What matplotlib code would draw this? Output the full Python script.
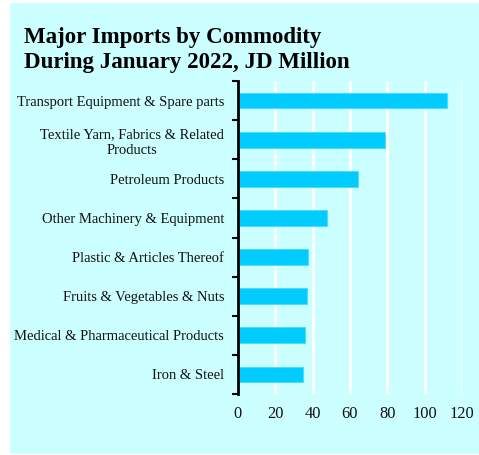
import matplotlib.pyplot as plt
from matplotlib.patches import Rectangle

# Imports by commodity, January 2022 (JD million)
commodities = [
    "Transport Equipment & Spare parts",
    "Textile Yarn, Fabrics & Related\nProducts",
    "Petroleum Products",
    "Other Machinery & Equipment",
    "Plastic & Articles Thereof",
    "Fruits & Vegetables & Nuts",
    "Medical & Pharmaceutical Products",
    "Iron & Steel",
]
values = [111.8, 78.7, 64.1, 47.8, 37.3, 36.7, 36.0, 34.8]
x_ticks = [0, 20, 40, 60, 80, 100, 120]

bg = "#CCFFFF"
bar_color = "#00CCFF"

plt.rcParams["font.family"] = ["Liberation Serif", "DejaVu Serif"]

fig = plt.figure(figsize=(4.79, 4.55), dpi=100)
fig.patches.append(Rectangle((10 / 479, 1 / 455), 1, (452 - 1) / 455,
                             transform=fig.transFigure, facecolor=bg,
                             edgecolor="none", zorder=-10))

ax = fig.add_axes([238 / 479, 1 - 394 / 455, (462 - 238) / 479, (394 - 81) / 455])
ax.set_facecolor(bg)

pos = list(range(len(commodities)))
ax.barh(pos, values, height=0.4, color=bar_color, edgecolor="#44DDFF",
        linewidth=0.6, zorder=3)

ax.set_ylim(len(commodities) - 0.5, -0.5)
ax.set_xlim(0, 120)
ax.set_xticks(x_ticks)
ax.set_xticklabels([str(t) for t in x_ticks], fontsize=11.8)
ax.tick_params(axis="x", length=0, pad=9, labelcolor="#111111")

ax.set_yticks(pos)
ax.set_yticklabels(commodities, fontsize=10.5, multialignment="center")
for lbl in ax.get_yticklabels():
    lbl.set_linespacing(1.3)
ax.tick_params(axis="y", which="major", length=0, pad=10, labelcolor="#111111")
ax.set_yticks([p - 0.5 for p in pos] + [len(pos) - 0.5], minor=True)
ax.tick_params(axis="y", which="minor", length=4, width=1.5, direction="out")

ax.grid(axis="x", color="white", linewidth=2, zorder=1)
for side in ["top", "right", "bottom"]:
    ax.spines[side].set_visible(False)
ax.spines["left"].set_linewidth(2)
ax.spines["left"].set_zorder(4)

fig.text(24 / 479, 1 - 27 / 455,
         "Major Imports by Commodity\nDuring January 2022, JD Million",
         fontsize=16.5, fontweight="bold", ha="left", va="top", linespacing=1.22)

fig.savefig("out.png", dpi=100, facecolor="white")
